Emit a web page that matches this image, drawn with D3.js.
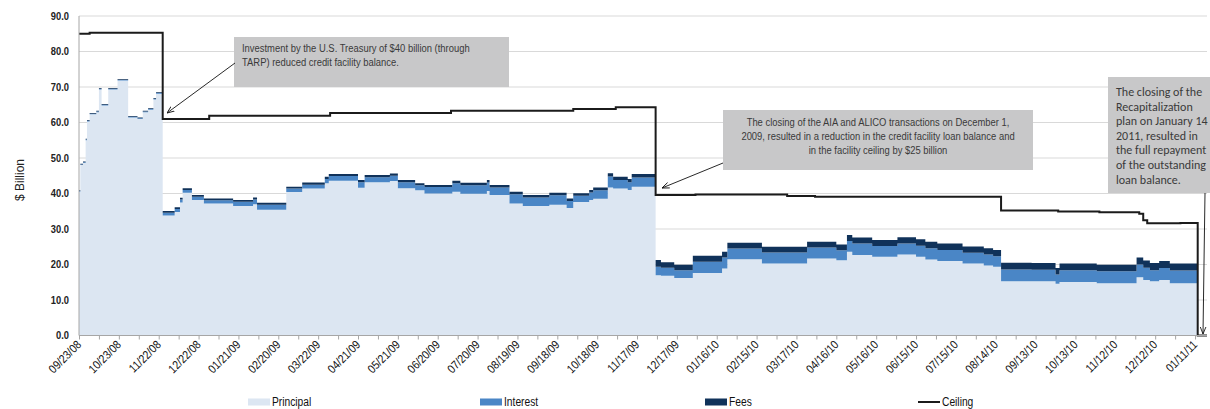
<!DOCTYPE html>
<html lang="en">
<head>
<meta charset="UTF-8">
<title>Federal Reserve credit facility balance</title>
<script src="https://d3js.org/d3.v7.min.js"></script>
<style>
    body {
        margin: 0;
        background: #fff;
    }
    svg {
        font-family: "Liberation Sans", Arial, sans-serif;
    }
    .grid line {
        stroke: #d9d9d9;
    }
    .note rect {
        fill: #c8c8c9;
    }
    .note text {
        fill: #3a3a3a;
        font-size: 11.5px;
    }
</style>
</head>
<body>
<div id="chart"></div>
<script>

    // balance components (step data, $ billion)
    var dates = ["09/23/08", "09/24/08", "09/26/08", "09/28/08", "09/29/08", "10/01/08", "10/06/08", "10/08/08",
        "10/10/08", "10/15/08", "10/22/08", "10/30/08", "11/06/08", "11/10/08", "11/14/08", "11/18/08", "11/20/08",
        "11/25/08", "12/04/08", "12/08/08", "12/10/08", "12/17/08", "12/26/08", "01/17/09", "02/01/09", "02/04/09",
        "02/26/09", "03/10/09", "03/27/09", "03/30/09", "04/21/09", "04/26/09", "05/15/09", "05/21/09", "06/03/09",
        "06/10/09", "07/01/09", "07/07/09", "07/27/09", "07/29/09", "08/13/09", "08/23/09", "09/12/09", "09/25/09",
        "09/30/09", "10/12/09", "10/15/09", "10/26/09", "10/30/09", "11/10/09", "11/13/09", "12/01/09", "12/05/09",
        "12/15/09", "12/29/09", "01/20/10", "01/24/10", "02/19/10", "03/25/10", "04/16/10", "04/24/10", "04/28/10",
        "05/13/10", "06/01/10", "06/15/10", "06/22/10", "07/01/10", "07/20/10", "08/05/10", "08/12/10", "08/18/10",
        "09/10/10", "09/28/10", "10/01/10", "10/29/10", "11/28/10", "12/03/10", "12/08/10", "12/15/10", "12/23/10",
        "01/13/11"];

    var principal = [40.5, 48.0, 48.6, 55.0, 60.3, 62.3, 62.9, 69.3,
        64.8, 69.3, 71.8, 61.4, 61.0, 62.9, 63.6, 66.5, 68.1,
        33.8, 34.8, 37.5, 40.2, 38.2, 37.2, 36.5, 37.0, 35.4,
        40.4, 41.4, 42.9, 43.6, 41.6, 43.2, 43.5, 41.5, 40.9,
        40.0, 40.5, 39.9, 40.7, 39.6, 37.2, 36.5, 36.8, 35.9,
        37.6, 38.2, 38.5, 41.7, 41.4, 41.0, 41.9, 17.0, 16.8,
        16.2, 17.6, 18.9, 21.5, 20.3, 21.7, 21.2, 23.6, 22.7,
        22.2, 22.8, 22.2, 21.4, 21.0, 20.3, 19.7, 19.4, 15.3,
        15.3, 14.6, 15.1, 14.7, 16.4, 15.6, 15.3, 15.6, 14.7,
        0];

    var interest = [0.2, 0.2, 0.2, 0.2, 0.2, 0.2, 0.2, 0.2,
        0.2, 0.2, 0.2, 0.2, 0.2, 0.2, 0.2, 0.2, 0.2,
        0.8, 0.8, 0.8, 0.8, 0.9, 0.9, 1.2, 1.3, 1.4,
        1.0, 1.1, 1.2, 1.3, 1.6, 1.4, 1.5, 1.7, 1.4,
        1.8, 2.4, 2.4, 2.4, 2.1, 2.6, 2.4, 2.7, 2.0,
        1.8, 2.1, 2.4, 3.1, 2.4, 2.2, 2.6, 2.4, 2.3,
        2.2, 3.2, 3.1, 3.0, 3.1, 3.1, 2.8, 3.0, 3.2,
        3.0, 3.1, 3.1, 3.2, 3.1, 3.0, 3.1, 2.9, 3.3,
        3.2, 2.6, 3.3, 3.4, 3.6, 3.5, 3.1, 3.4, 3.6,
        0];

    var fees = [0.2, 0.2, 0.2, 0.2, 0.2, 0.2, 0.2, 0.2,
        0.2, 0.2, 0.2, 0.2, 0.2, 0.2, 0.2, 0.2, 0.2,
        0.5, 0.5, 0.5, 0.5, 0.5, 0.5, 0.5, 0.6, 0.6,
        0.5, 0.6, 0.6, 0.6, 0.6, 0.6, 0.6, 0.6, 0.6,
        0.6, 0.7, 0.7, 0.7, 0.7, 0.7, 0.7, 0.7, 0.7,
        0.7, 0.7, 0.8, 0.9, 0.9, 0.9, 1.0, 1.9, 1.5,
        1.5, 1.7, 1.6, 1.6, 1.6, 1.6, 1.6, 1.7, 1.7,
        1.7, 1.8, 1.8, 1.8, 1.8, 1.8, 1.8, 1.8, 1.9,
        1.9, 1.8, 1.9, 1.8, 2.0, 2.0, 2.0, 2.0, 2.0,
        0];

    // facility ceiling
    var ceilingDates = ["09/23/08", "10/01/08", "11/25/08", "12/30/08", "03/31/09", "06/30/09", "09/30/09",
        "11/01/09", "12/01/09", "12/31/09", "03/10/10", "03/31/10", "08/18/10", "09/30/10", "10/31/10", "11/30/10",
        "12/03/10", "12/06/10", "12/31/10", "01/13/11", "01/20/11"];
    var ceilingValues = [85.0, 85.3, 61.0, 61.9, 62.7, 63.3, 63.8,
        64.3, 39.6, 39.7, 39.3, 39.1, 35.2, 34.9, 34.7, 34.3,
        32.5, 31.6, 31.7, 0.0, 0.0];

    var tickLabels = ["09/23/08", "10/23/08", "11/22/08", "12/22/08", "01/21/09", "02/20/09", "03/22/09",
        "04/21/09", "05/21/09", "06/20/09", "07/20/09", "08/19/09", "09/18/09", "10/18/09", "11/17/09",
        "12/17/09", "01/16/10", "02/15/10", "03/17/10", "04/16/10", "05/16/10", "06/15/10", "07/15/10",
        "08/14/10", "09/13/10", "10/13/10", "11/12/10", "12/12/10", "01/11/11"];
    var yTicks = [0, 10, 20, 30, 40, 50, 60, 70, 80, 90];

    var seriesKeys = ["principal", "interest", "fees"];
    var seriesColors = {principal: "#dce6f2", interest: "#4a86c6", fees: "#10325a"};
    var legendLabels = ["Principal", "Interest", "Fees", "Ceiling"];

    var notes = [
        ["Investment by the U.S. Treasury of $40 billion (through", "TARP) reduced credit facility balance."],
        ["The closing of the AIA and ALICO transactions on December 1,",
            "2009, resulted in a reduction in the credit facility loan balance and",
            "in the facility ceiling by $25 billion"],
        ["The closing of the", "Recapitalization", "plan on January 14", "2011, resulted in",
            "the full repayment", "of the outstanding", "loan balance."]
    ];

    // size
    var width = 1210, height = 409;
    var plot = {left: 79, right: 1207, top: 16, bottom: 335.5};
    var narrow = 0.82; // squeeze Arial into Arial Narrow proportions

    var parse = d3.timeParse("%m/%d/%y");

    var svg = d3.select("#chart").append("svg")
            .attr("width", width)
            .attr("height", height);

    var x = d3.scaleTime()
            .domain([parse("09/23/08"), parse("01/20/11")])
            .range([plot.left, plot.right]);

    var y = d3.scaleLinear()
            .domain([0, 90])
            .range([plot.bottom, plot.top]);

    function place(px, py, k, rot) {
        return "translate(" + px + "," + py + ")" + (rot ? " rotate(" + rot + ")" : "") + " scale(" + k + ",1)";
    }

    // gridlines
    svg.append("g")
            .attr("class", "grid")
            .selectAll("line")
            .data(yTicks.filter(function(d) { return d > 0; }))
            .enter().append("line")
            .attr("x1", plot.left)
            .attr("x2", plot.right)
            .attr("y1", function(d) { return y(d); })
            .attr("y2", function(d) { return y(d); });

    // stacked areas
    var rows = dates.map(function(d, i) {
        return {date: parse(d), principal: principal[i], interest: interest[i], fees: fees[i]};
    });

    var stack = d3.stack().keys(seriesKeys);

    var area = d3.area()
            .curve(d3.curveStepAfter)
            .x(function(d) { return x(d.data.date); })
            .y0(function(d) { return y(d[0]); })
            .y1(function(d) { return y(d[1]); });

    svg.append("g")
            .selectAll("path")
            .data(stack(rows))
            .enter().append("path")
            .attr("fill", function(d) { return seriesColors[d.key]; })
            .attr("d", area);

    // ceiling
    var ceilingLine = d3.line()
            .curve(d3.curveStepAfter)
            .x(function(d, i) { return x(parse(ceilingDates[i])); })
            .y(function(d) { return y(d); });

    svg.append("path")
            .datum(ceilingValues)
            .attr("fill", "none")
            .attr("stroke", "#1b1b1b")
            .attr("stroke-width", 2)
            .attr("d", ceilingLine);

    // axes
    var minorTicks = d3.range(0, 841, 15).map(function(n) { return d3.timeDay.offset(parse("09/23/08"), n); });

    var xAxis = svg.append("g")
            .attr("transform", "translate(0," + plot.bottom + ")")
            .call(d3.axisBottom(x).tickValues(minorTicks).tickSize(4).tickFormat(""));
    xAxis.select(".domain").attr("stroke", "#a6a6a6").attr("d", "M" + plot.left + ",0H" + plot.right);
    xAxis.selectAll(".tick line").attr("stroke", "#a6a6a6");

    svg.append("g")
            .selectAll("text")
            .data(tickLabels)
            .enter().append("text")
            .attr("transform", function(d) { return place(x(parse(d)) + 3, plot.bottom + 10, 0.86, -45); })
            .attr("text-anchor", "end")
            .attr("font-size", "12px")
            .attr("fill", "#111")
            .text(function(d) { return d; });

    svg.append("line")
            .attr("x1", plot.left).attr("x2", plot.left)
            .attr("y1", plot.top).attr("y2", plot.bottom)
            .attr("stroke", "#a6a6a6");

    svg.append("g")
            .selectAll("text")
            .data(yTicks)
            .enter().append("text")
            .attr("transform", function(d) { return place(69, y(d), 0.85); })
            .attr("text-anchor", "end")
            .attr("dy", "0.35em")
            .attr("font-size", "11px")
            .attr("font-weight", "bold")
            .attr("fill", "#222")
            .text(d3.format(".1f"));

    svg.append("text")
            .attr("transform", "translate(24,180) rotate(-90)")
            .attr("text-anchor", "middle")
            .attr("font-size", "12px")
            .attr("fill", "#222")
            .text("$ Billion");

    // annotations
    svg.append("defs").append("marker")
            .attr("id", "arrow")
            .attr("viewBox", "0 0 10 10")
            .attr("refX", 10)
            .attr("refY", 5)
            .attr("markerWidth", 8)
            .attr("markerHeight", 8)
            .attr("orient", "auto")
            .append("path")
            .attr("d", "M0,1L10,5L0,9")
            .attr("fill", "none")
            .attr("stroke", "#111")
            .attr("stroke-width", 1.2);

    function arrow(x1, y1, x2, y2) {
        svg.append("line")
                .attr("x1", x1).attr("y1", y1)
                .attr("x2", x2).attr("y2", y2)
                .attr("stroke", "#111")
                .attr("stroke-width", 0.9)
                .attr("marker-end", "url(#arrow)");
    }

    var n1 = svg.append("g").attr("class", "note");
    n1.append("rect").attr("x", 234).attr("y", 37).attr("width", 275).attr("height", 50);
    n1.selectAll("text").data(notes[0]).enter().append("text")
            .attr("transform", function(d, i) { return place(242, 52 + i * 14, narrow); })
            .text(function(d) { return d; });
    arrow(235, 63, 167, 113);

    var n2 = svg.append("g").attr("class", "note");
    n2.append("rect").attr("x", 723).attr("y", 110).attr("width", 310).attr("height", 60);
    n2.selectAll("text").data(notes[1]).enter().append("text")
            .attr("transform", function(d, i) { return place(878, 126 + i * 14, narrow); })
            .attr("text-anchor", "middle")
            .text(function(d) { return d; });
    arrow(723, 163, 662, 188);

    var n3 = svg.append("g").attr("class", "note");
    n3.append("rect").attr("x", 1108).attr("y", 77).attr("width", 110).attr("height", 116);
    n3.selectAll("text").data(notes[2]).enter().append("text")
            .attr("x", 1116)
            .attr("y", function(d, i) { return 96 + i * 14.6; })
            .attr("font-family", "Carlito, Lato, 'Open Sans', sans-serif")
            .style("font-size", "12px")
            .text(function(d) { return d; });
    arrow(1205, 193, 1203, 334);

    // legend
    var legendX = [248, 480, 705, 918];
    var legend = svg.append("g")
            .selectAll("g")
            .data(legendLabels)
            .enter().append("g")
            .attr("transform", function(d, i) { return "translate(" + legendX[i] + ",402)"; });

    legend.each(function(d, i) {
        var g = d3.select(this);
        if (i < 3) {
            g.append("rect").attr("x", 0).attr("y", -3.5).attr("width", 22).attr("height", 7)
                    .attr("fill", seriesColors[seriesKeys[i]]);
        } else {
            g.append("line").attr("x1", 0).attr("x2", 22).attr("stroke", "#1b1b1b").attr("stroke-width", 2);
        }
        g.append("text")
                .attr("transform", place(24, 0, narrow))
                .attr("dy", "0.35em")
                .attr("font-size", "12.5px")
                .attr("fill", "#111")
                .text(d);
    });

</script>
</body>
</html>
